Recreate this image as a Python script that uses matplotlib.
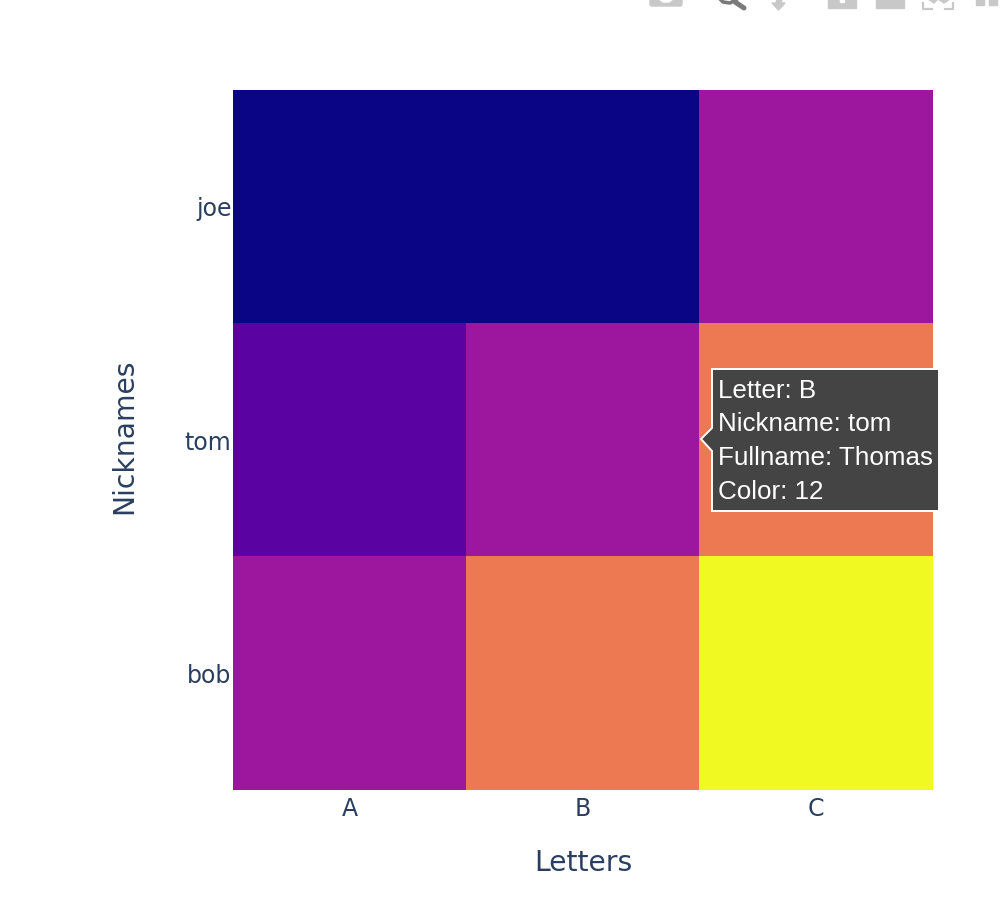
import numpy as np
import matplotlib.pyplot as plt
from matplotlib.colors import LinearSegmentedColormap
from matplotlib.patches import Polygon, Rectangle, FancyBboxPatch

letters = ['A', 'B', 'C']
nicknames = ['joe', 'tom', 'bob']
z = np.array([[0, 0, 6],
              [3, 6, 12],
              [6, 12, 18]])
plasma_colors = ['#0a0584', '#46039f', '#7201a8', '#9c179e', '#bd3786',
                 '#d8576b', '#ed7953', '#fb9f3a', '#fdca26', '#f0f921']
hover_lines = ['Letter: B', 'Nickname: tom', 'Fullname: Thomas', 'Color: 12']

W, H = 1006, 910
TEXT = '#2a3f5f'


def px_box(x0, y0, x1, y1):
    """Convert pixel box (top-left origin) to figure fractions."""
    return [x0 / W, 1 - y1 / H, (x1 - x0) / W, (y1 - y0) / H]


def draw_toolbar(fig):
    """Toolbar icons, cut off by the top of the screenshot."""
    ov = fig.add_axes([0, 0, 1, 1], zorder=5)
    ov.set_xlim(0, W)
    ov.set_ylim(H, 0)
    ov.axis('off')
    gray = '#c8c8c8'
    dark = '#7a7a7a'
    # camera
    ov.add_patch(FancyBboxPatch((652, -6), 28, 10, boxstyle='round,pad=2',
                                color=gray))
    ov.add_patch(Polygon([[659, -1], [673, -1], [669, 2], [663, 2]], color='white'))
    # magnifier
    ov.plot([719, 723, 730, 737], [-2, 2, 3, -1], color=dark, lw=2.6)
    ov.plot([735, 744], [2, 8], color=dark, lw=3.6, solid_capstyle='round')
    # download arrow
    ov.add_patch(Polygon([[772, 3], [785, 3], [778.5, 10]], color=gray))
    ov.add_patch(Rectangle((776, -1), 5, 5, color=gray))
    # zoom in / zoom out
    ov.add_patch(Rectangle((828, -1), 28, 9, color=gray))
    ov.add_patch(Rectangle((840, -1), 4, 3, color='white'))
    ov.add_patch(Rectangle((876, -1), 28, 9, color=gray))
    # autoscale brackets
    ov.plot([923, 923, 932], [3, 9, 9], color=gray, lw=1.6)
    ov.plot([945, 953, 953], [9, 9, 3], color=gray, lw=1.6)
    ov.add_patch(Polygon([[928, -1], [934, 3], [938, -1]], color=gray))
    ov.add_patch(Polygon([[938, -1], [944, 3], [950, -1]], color=gray))
    # reset
    ov.add_patch(Rectangle((976, -1), 8, 5.5, color=gray))
    ov.add_patch(Rectangle((989, -1), 8, 5.5, color=gray))
    return ov


def draw_hover(ov):
    """Hover label pointing at the middle cell."""
    dark = '#444444'
    pts = [[712, 428], [712, 369], [939, 369], [939, 511], [712, 511],
           [712, 451], [701, 439]]
    ov.add_patch(Polygon(pts, closed=True, facecolor=dark, edgecolor='white', lw=1.4))
    for i, line in enumerate(hover_lines):
        ov.text(718, 390.5 + i * 33.7, line, color='white', fontsize=18.7,
                family='Liberation Sans', va='center', ha='left')


def main():
    fig = plt.figure(figsize=(W / 100, H / 100), dpi=100, facecolor='white')
    cmap = LinearSegmentedColormap.from_list('plasma_plotly', plasma_colors)
    ax = fig.add_axes(px_box(233, 90, 933, 790))
    ax.imshow(z, cmap=cmap, aspect='auto', interpolation='nearest')
    ax.set_xticks(range(len(letters)), letters)
    ax.set_yticks(range(len(nicknames)), nicknames)
    ax.tick_params(length=0, labelsize=17, labelcolor=TEXT)
    ax.tick_params(axis='x', pad=5)
    ax.tick_params(axis='y', pad=1)
    for s in ax.spines.values():
        s.set_visible(False)
    ax.set_xlabel('Letters', fontsize=20.3, color=TEXT)
    ax.xaxis.set_label_coords(0.5, (790 - 863) / 700, transform=ax.transAxes)
    ax.xaxis.label.set_va('center')
    ax.set_ylabel('Nicknames', fontsize=20.3, color=TEXT)
    ax.yaxis.set_label_coords((124 - 233) / 700, 0.5 + 4 / 700, transform=ax.transAxes)
    ax.yaxis.label.set_va('center')

    ov = draw_toolbar(fig)
    draw_hover(ov)
    fig.savefig('out.png', dpi=100)
    plt.close(fig)


if __name__ == "__main__":
    main()
